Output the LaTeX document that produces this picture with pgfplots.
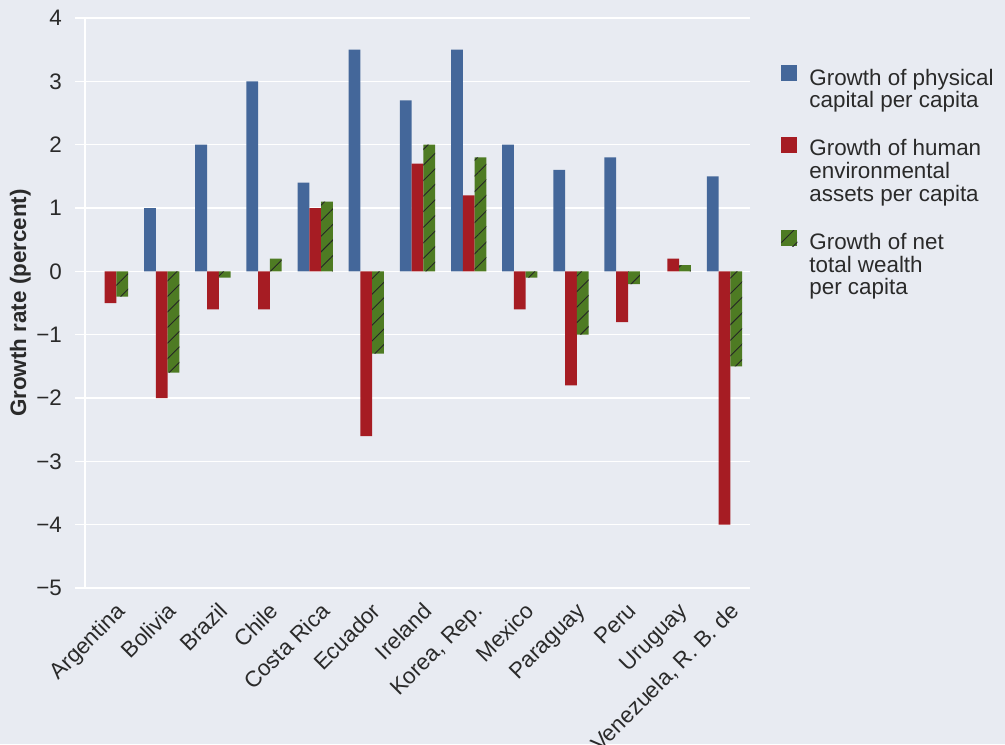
\documentclass[border=0pt]{standalone}
\usepackage{pgfplots}
\pgfplotsset{compat=1.18}
\usepackage{fontspec}
\setmainfont{Liberation Sans}
\usetikzlibrary{patterns.meta}
\definecolor{bgc}{HTML}{E8EBF2}
\definecolor{cblue}{HTML}{44679A}
\definecolor{cred}{HTML}{A61C23}
\definecolor{cgreen}{HTML}{4E7B23}
\definecolor{txt}{HTML}{2A2A2A}
\newcommand{\lent}[1]{\begin{tabular}[b]{@{}l@{}}#1\end{tabular}}
\pgfplotsset{
  legtwo/.style={legend image code/.code={\draw[##1, draw=none] (0pt,4.2pt) rectangle (8pt,12.2pt);}},
  legthree/.style={legend image code/.code={\draw[##1, draw=none] (0pt,9.6pt) rectangle (8pt,17.6pt);}},
}
\begin{document}
\begin{tikzpicture}[font=\fontsize{11.2}{10.75}\selectfont, text=txt]
\path[use as bounding box, fill=bgc] (-42.5pt,-78pt) rectangle (460pt,294pt);
\begin{axis}[
  at={(0,0)}, anchor=south west,
  scale only axis, width=332.5pt, height=285pt,
  ybar=0pt, bar width=0.23,
  xmin=-0.5, xmax=12.5, ymin=-5, ymax=4,
  xtick={0,...,12},
  xticklabels={Argentina,Bolivia,Brazil,Chile,Costa Rica,Ecuador,Ireland,{Korea, Rep.},Mexico,Paraguay,Peru,Uruguay,{Venezuela, R. B. de}},
  xticklabel style={rotate=45, anchor=north east, inner sep=1pt, xshift=1.5pt, yshift=-1.5pt},
  x axis line style={draw=none}, xtick style={draw=none},
  axis y line*=left,
  y axis line style={draw=white, line width=0.8pt},
  ytick={-5,...,4},
  yticklabels={−5,−4,−3,−2,−1,0,1,2,3,4},
  ytick style={draw=white, line width=0.8pt},
  tick align=outside, major tick length=5pt,
  yticklabel style={xshift=-3pt},
  ymajorgrids, grid style={white, line width=0.8pt},
  ylabel={\bfseries Growth rate (percent)},
  ylabel style={yshift=-4pt},
  legend style={at={(1.0466,0.9185)}, anchor=north west, draw=none, fill=none,
    row sep=10.5pt, inner sep=0pt, font=\fontsize{11.2}{10.75}\selectfont,
    nodes={inner xsep=6pt}},
  legend cell align=left,
]
\addplot[fill=cblue, draw=none, legtwo]
  coordinates {(1,1.0) (2,2.0) (3,3.0) (4,1.4) (5,3.5) (6,2.7) (7,3.5) (8,2.0) (9,1.6) (10,1.8) (12,1.5)};
\addlegendentry{\lent{Growth of physical\\capital per capita}}
\addplot[fill=cred, draw=none, legthree]
  coordinates {(0,-0.5) (1,-2.0) (2,-0.6) (3,-0.6) (4,1.0) (5,-2.6) (6,1.7) (7,1.2) (8,-0.6) (9,-1.8) (10,-0.8) (11,0.2) (12,-4.0)};
\addlegendentry{\lent{Growth of human\\environmental\\assets per capita}}
\addplot[fill=cgreen, draw=none, postaction={pattern={Lines[angle=45,distance=5.5pt,line width=0.45pt]}, pattern color=black!85}, legthree]
  coordinates {(0,-0.4) (1,-1.6) (2,-0.1) (3,0.2) (4,1.1) (5,-1.3) (6,2.0) (7,1.8) (8,-0.1) (9,-1.0) (10,-0.2) (11,0.1) (12,-1.5)};
\addlegendentry{\lent{Growth of net\\total wealth\\per capita}}
\end{axis}
\end{tikzpicture}
\end{document}
